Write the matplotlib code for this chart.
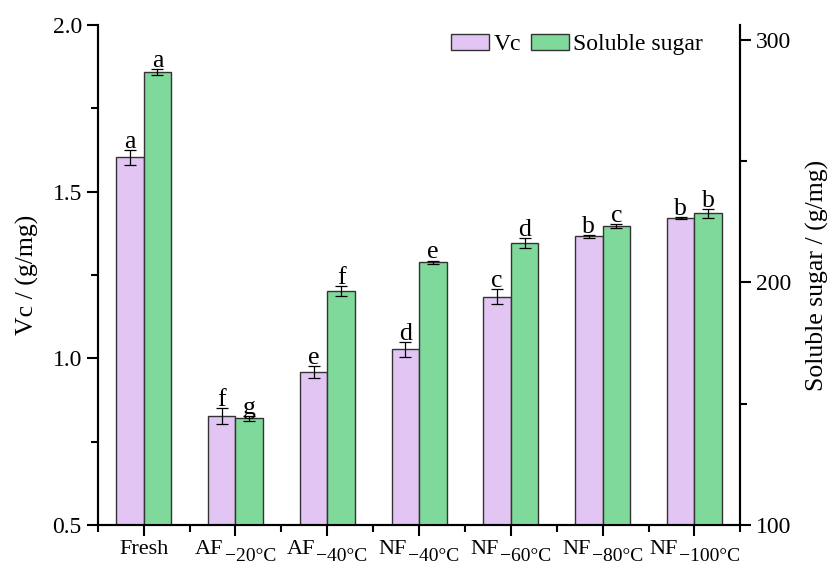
import matplotlib
matplotlib.use("Agg")
import matplotlib.pyplot as plt
import numpy as np
from matplotlib.patches import Patch
from matplotlib.ticker import MultipleLocator
from matplotlib.transforms import offset_copy

plt.rcParams["font.family"] = ["Liberation Serif", "DejaVu Serif"]

group_names = ["Fresh", "AF", "AF", "NF", "NF", "NF", "NF"]
group_temps = ["", "−20°C", "−40°C", "−40°C", "−60°C", "−80°C", "−100°C"]
vc = [1.603, 0.827, 0.960, 1.027, 1.185, 1.366, 1.421]
vc_err = [0.023, 0.023, 0.018, 0.023, 0.022, 0.004, 0.004]
vc_letters = ["a", "f", "e", "d", "c", "b", "b"]
sugar = [286.8, 144.0, 196.5, 208.2, 216.1, 223.3, 228.4]
sugar_err = [1.2, 1.0, 2.0, 0.8, 2.0, 0.8, 1.7]
sugar_letters = ["a", "g", "f", "e", "d", "c", "b"]

vc_color = "#e2c5f3"
sugar_color = "#7ed99b"
width = 0.3
x = np.arange(len(group_names))

fig = plt.figure(figsize=(8.29, 5.68), dpi=100)
ax = fig.add_axes([0.118, 0.0757, 0.775, 0.880])
ax2 = ax.twinx()

err_kw = dict(ecolor="black", elinewidth=0.9, capsize=4, capthick=0.9)
ax.bar(x - width / 2, vc, width, yerr=vc_err, color=vc_color,
       edgecolor="#333333", linewidth=1.0, error_kw=err_kw, zorder=2)
ax2.bar(x + width / 2, sugar, width, yerr=sugar_err, color=sugar_color,
        edgecolor="#333333", linewidth=1.0, error_kw=err_kw, zorder=2)

# significance letters sit just above each error bar
for xi, v, e, s in zip(x, vc, vc_err, vc_letters):
    ax.annotate(s, (xi - width / 2, v + e), xytext=(0, 1.5),
                textcoords="offset points", ha="center", va="baseline",
                fontsize=18.5)
for xi, v, e, s in zip(x, sugar, sugar_err, sugar_letters):
    ax2.annotate(s, (xi + width / 2, v + e), xytext=(0, 1.5),
                 textcoords="offset points", ha="center", va="baseline",
                 fontsize=18.5)

ax.set_xlim(-0.5, len(group_names) - 0.5)
ax.set_ylim(0.5, 2.0)
ax2.set_ylim(100, 306)

ax.set_xticks(x)
ax.set_xticklabels([])
ax.xaxis.set_minor_locator(MultipleLocator(1, offset=0.5))
ax.yaxis.set_major_locator(MultipleLocator(0.5))
ax.yaxis.set_minor_locator(MultipleLocator(0.25))
ax2.yaxis.set_major_locator(MultipleLocator(100))
ax2.yaxis.set_minor_locator(MultipleLocator(50))

for a in (ax, ax2):
    a.spines["top"].set_visible(False)
    for sp in a.spines.values():
        sp.set_linewidth(1.5)
    a.tick_params(which="major", direction="out", length=8, width=1.5,
                  labelsize=17)
    a.tick_params(which="minor", direction="out", length=5, width=1.5)

# category labels with a lowered, slightly smaller temperature subscript
renderer = fig.canvas.get_renderer()
trans = ax.get_xaxis_transform()
for xi, name, temp in zip(x, group_names, group_temps):
    t1 = ax.text(xi, 0, name, transform=trans, fontsize=16,
                 ha="left", va="baseline")
    w1 = t1.get_window_extent(renderer).width
    w2, gap = 0.0, 0.0
    t2 = None
    if temp:
        t2 = ax.text(xi, 0, temp, transform=trans, fontsize=14,
                     ha="left", va="baseline")
        w2 = t2.get_window_extent(renderer).width
        gap = 1.0
    left = -(w1 + gap + w2) / 2
    t1.set_transform(offset_copy(trans, fig, x=left, y=-29, units="dots"))
    if t2 is not None:
        t2.set_transform(offset_copy(trans, fig, x=left + w1 + gap, y=-36,
                                     units="dots"))

ax.set_ylabel("Vc / (g/mg)", fontsize=18.5, labelpad=10)
ax2.set_ylabel("Soluble sugar / (g/mg)", fontsize=18.5, labelpad=10)

handles = [Patch(facecolor=vc_color, edgecolor="#333333", label="Vc"),
           Patch(facecolor=sugar_color, edgecolor="#333333", label="Soluble sugar")]
ax2.legend(handles=handles, loc="upper right", ncol=2, frameon=False,
           fontsize=17, handlelength=1.6, handleheight=0.7, handletextpad=0.2,
           columnspacing=0.4, bbox_to_anchor=(0.975, 1.025))

fig.savefig("out.png", dpi=100)
